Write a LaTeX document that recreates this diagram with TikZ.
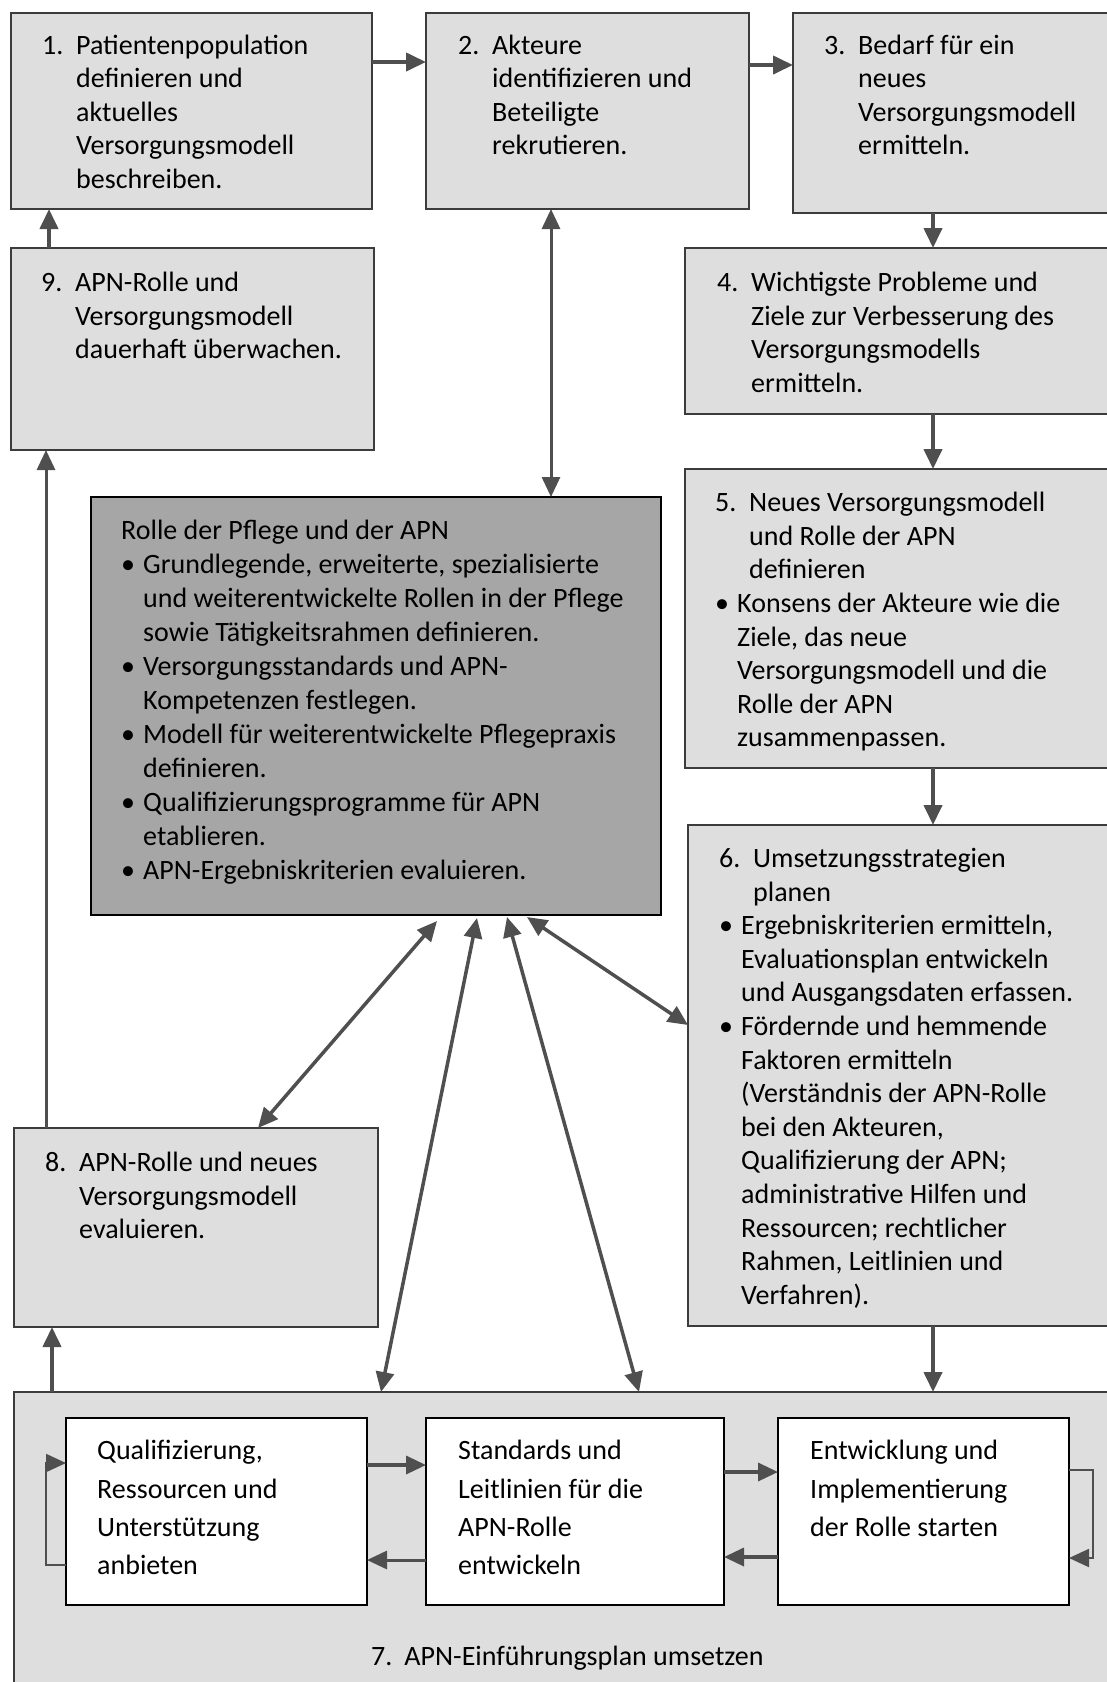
\documentclass[tikz,border=0pt]{standalone}
\usepackage{fontspec}
\setmainfont{Carlito}
\usetikzlibrary{arrows.meta}

\definecolor{boxfill}{HTML}{DEDEDE}
\definecolor{rollefill}{HTML}{A6A6A6}
\definecolor{boxline}{HTML}{3C3C3C}
\definecolor{arrowgray}{HTML}{4F4F4F}

\newcommand{\boxfont}{\fontsize{28pt}{33.6pt}\selectfont}
\newcommand{\rollefont}{\fontsize{28pt}{34pt}\selectfont}
\newcommand{\innerfont}{\fontsize{28pt}{38.4pt}\selectfont}
\newcommand{\nr}[1]{\makebox[34pt][l]{#1}}
\newcommand{\ind}{\hspace*{34pt}}
\newcommand{\bul}{\makebox[22pt][l]{\textbullet}}
\newcommand{\bind}{\hspace*{22pt}}

\begin{document}
\begin{tikzpicture}[x=1pt,y=-1pt,
		stepbox/.style={rectangle,draw=boxline,line width=2.5pt,fill=boxfill,anchor=north west,outer sep=0pt,inner sep=0pt},
		rollebox/.style={stepbox,fill=rollefill,draw=black},
		innerbox/.style={stepbox,fill=white,draw=black},
		steptext/.style={anchor=north west,inner sep=0pt,align=left,font=\boxfont,execute at begin node=\strut},
		innertext/.style={steptext,font=\innerfont},
		flow/.style={draw=arrowgray,line width=4pt,->},
		thinflow/.style={draw=arrowgray,line width=3pt,->},
		link/.style={draw=arrowgray,line width=3.5pt,<->},
		loopline/.style={draw=arrowgray,line width=2pt,->},
		>={Triangle[length=20pt,width=18pt]}]
		\useasboundingbox (0,0) rectangle (1107,1682);

		% individual steps
		\node[stepbox,minimum width=361pt,minimum height=196pt] (s1) at (11,13) {};
		\node[stepbox,minimum width=323pt,minimum height=196pt] (s2) at (426,13) {};
		\node[stepbox,minimum width=340pt,minimum height=200pt] (s3) at (793,13) {};
		\node[stepbox,minimum width=363pt,minimum height=202pt] (s9) at (11,248) {};
		\node[stepbox,minimum width=440pt,minimum height=166pt] (s4) at (685,248) {};
		\node[stepbox,minimum width=440pt,minimum height=299pt] (s5) at (685,469) {};
		\node[rollebox,minimum width=570pt,minimum height=418pt] (rolle) at (91,497) {};
		\node[stepbox,minimum width=440pt,minimum height=501pt] (s6) at (688,825) {};
		\node[stepbox,minimum width=364pt,minimum height=199pt] (s8) at (14,1128) {};
		\node[stepbox,minimum width=1110pt,minimum height=310pt] (s7) at (14,1392) {};

		% parts of step 7
		\node[innerbox,minimum width=301pt,minimum height=187pt] (qa) at (66,1418) {};
		\node[innerbox,minimum width=298pt,minimum height=187pt] (sl) at (426,1418) {};
		\node[innerbox,minimum width=291pt,minimum height=187pt] (ei) at (778,1418) {};

		% texts
		\node[steptext] (t1) at (42,34.5) {\nr{1.}Patientenpopulation\\\ind definieren und\\\ind aktuelles\\\ind Versorgungsmodell\\\ind beschreiben.};
		\node[steptext] (t2) at (458,34.5) {\nr{2.}Akteure\\\ind identifizieren und\\\ind Beteiligte\\\ind rekrutieren.};
		\node[steptext] (t3) at (824,34.5) {\nr{3.}Bedarf für ein\\\ind neues\\\ind Versorgungsmodell\\\ind ermitteln.};
		\node[steptext] (t9) at (41,272) {\nr{9.}APN-Rolle und\\\ind Versorgungsmodell\\\ind dauerhaft überwachen.};
		\node[steptext] (t4) at (717,272) {\nr{4.}Wichtigste Probleme und\\\ind Ziele zur Verbesserung des\\\ind Versorgungsmodells\\\ind ermitteln.};
		\node[steptext] (t5) at (715,492) {\nr{5.}Neues Versorgungsmodell\\\ind und Rolle der APN\\\ind definieren\\\bul Konsens der Akteure wie die\\\bind Ziele, das neue\\\bind Versorgungsmodell und die\\\bind Rolle der APN\\\bind zusammenpassen.};
		\node[steptext,font=\rollefont] (trolle) at (121,519.5) {Rolle der Pflege und der APN\\\bul Grundlegende, erweiterte, spezialisierte\\\bind und weiterentwickelte Rollen in der Pflege\\\bind sowie Tätigkeitsrahmen definieren.\\\bul Versorgungsstandards und APN-\\\bind Kompetenzen festlegen.\\\bul Modell für weiterentwickelte Pflegepraxis\\\bind definieren.\\\bul Qualifizierungsprogramme für APN\\\bind etablieren.\\\bul APN-Ergebniskriterien evaluieren.};
		\node[steptext] (t6) at (719,848) {\nr{6.}Umsetzungsstrategien\\\ind planen\\\bul Ergebniskriterien ermitteln,\\\bind Evaluationsplan entwickeln\\\bind und Ausgangsdaten erfassen.\\\bul Fördernde und hemmende\\\bind Faktoren ermitteln\\\bind (Verständnis der APN-Rolle\\\bind bei den Akteuren,\\\bind Qualifizierung der APN;\\\bind administrative Hilfen und\\\bind Ressourcen; rechtlicher\\\bind Rahmen, Leitlinien und\\\bind Verfahren).};
		\node[steptext] (t8) at (45,1152) {\nr{8.}APN-Rolle und neues\\\ind Versorgungsmodell\\\ind evaluieren.};
		\node[innertext] (tqa) at (97,1440) {Qualifizierung,\\Ressourcen und\\Unterstützung\\anbieten};
		\node[innertext] (tsl) at (458,1440) {Standards und\\Leitlinien für die\\APN-Rolle\\entwickeln};
		\node[innertext] (tei) at (810,1440) {Entwicklung und\\Implementierung\\der Rolle starten};
		\node[steptext,anchor=base west] (t7) at (371,1665) {7.\hspace{12pt}APN-Einführungsplan umsetzen};

		% main sequence
		\coordinate (mid) at (933,0);
		\draw[flow] ([yshift=49pt]s1.east) -- ([yshift=49pt]s2.west);
		\draw[flow] ([yshift=46pt]s2.east) -- ([yshift=48pt]s3.west);
		\draw[flow] (s3.south -| mid) -- (s4.north -| mid);
		\draw[flow] (s4.south -| mid) -- (s5.north -| mid);
		\draw[flow] (s5.south -| mid) -- (s6.north -| mid);
		\draw[flow] (s6.south -| mid) -- (s7.north -| mid);
		\draw[flow] ([xshift=38pt]s7.north west) -- ([xshift=38pt]s8.south west);
		\draw[thinflow] ([xshift=32pt]s8.north west) -- ([xshift=35pt]s9.south west);
		\draw[flow] ([xshift=38pt]s9.north west) -- ([xshift=38pt]s1.south west);

		% links to the role box
		\draw[link,line width=3pt] ([xshift=125pt]s2.south west) -- ([xshift=460pt]rolle.north west);
		\draw[link] ([xshift=346pt,yshift=-6pt]rolle.south west) -- ([xshift=244pt]s8.north west);
		\draw[link] ([xshift=386pt,yshift=-3pt]rolle.south west) -- ([xshift=367pt]s7.north west);
		\draw[link] ([xshift=416pt,yshift=-2pt]rolle.south west) -- ([xshift=625pt]s7.north west);
		\draw[link] ([xshift=436pt,yshift=-2pt]rolle.south west) -- ([yshift=-200pt]s6.north west);

		% inside step 7
		\draw[flow,line width=3.5pt] ([yshift=46.5pt]qa.east) -- ([yshift=46.5pt]sl.west);
		\draw[flow,line width=3pt] ([yshift=-48.5pt]sl.west) -- ([yshift=-48.5pt]qa.east);
		\draw[flow,line width=3.5pt] ([yshift=39.5pt]sl.east) -- ([yshift=39.5pt]ei.west);
		\draw[flow,line width=3.5pt] ([yshift=-45.5pt]ei.west) -- ([yshift=-45.5pt]sl.east);
		\draw[loopline] ([yshift=-53.5pt]qa.west) -- ++(-20,0) |- ([yshift=48.5pt]qa.west);
		\draw[loopline] ([yshift=41.5pt]ei.east) -- ++(24,0) |- ([yshift=-46.5pt]ei.east);
	\end{tikzpicture}
\end{document}
